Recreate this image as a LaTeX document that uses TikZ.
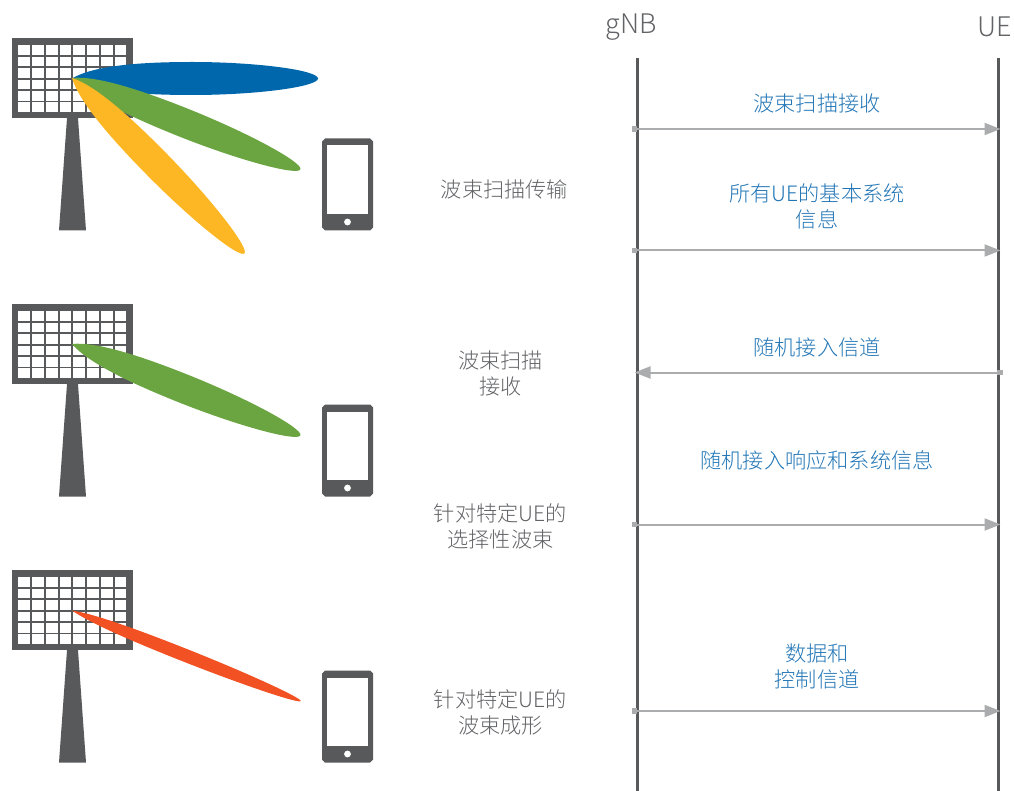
\documentclass[tikz,border=0pt]{standalone}
\usepackage{fontspec}
\setmainfont{Noto Sans CJK SC Light}
\usetikzlibrary{arrows.meta}
\definecolor{dk}{HTML}{58595B}
\definecolor{txtg}{HTML}{626366}
\definecolor{txtb}{HTML}{2276B6}
\definecolor{arr}{HTML}{ABACAE}
\definecolor{bblue}{HTML}{0067AC}
\definecolor{bgreen}{HTML}{6BA542}
\definecolor{borange}{HTML}{FDB624}
\definecolor{bred}{HTML}{F15123}
\tikzset{
  x=1pt,y=-1pt,
  lefttext/.style={text=txtg,font=\fontsize{21.2}{26}\selectfont,align=center,inner sep=0pt},
  msgtext/.style={text=txtb,font=\fontsize{21.2}{26}\selectfont,align=center,inner sep=0pt},
  headtext/.style={text=txtg,font=\fontsize{27}{30}\selectfont,inner sep=0pt},
  lifeline/.style={draw=dk,line width=3pt},
  msgarrow/.style={draw=arr,line width=2pt,-{Triangle[length=16pt,width=12pt,color=arr]}},
  stub/.style={fill=arr,inner sep=0pt,minimum size=5.5pt,draw=none},
  pics/station/.style={code={
    \fill[dk] (12,38) rectangle (133,118);
    \foreach \c in {0,...,7}{\foreach \r in {0,...,5}{
      \fill[white] ({18.4+13.75*\c},{45.2+11.45*\r}) rectangle ++(11.6,9.6);}}
    \fill[dk] (67,118) -- (78,118) -- (86,230.5) -- (59,230.5) -- cycle;
    \fill[dk] (325,138.5) -- (370,138.5) -- (373,141.5) -- (373,227.5) -- (370,230.5) -- (325,230.5) -- (322,227.5) -- (322,141.5) -- cycle;
    \fill[white] (327,145.5) rectangle (368,214);
    \fill[white] (347.5,222) circle (3.4);
  }},
  pics/beam/.style 2 args={code={
    \fill[#2] (0,0) .. controls (22,{-.8*#1}) and (70,{-#1}) .. (120,{-#1})
      .. controls (185,{-#1}) and (246,{-.5*#1}) .. (246,0)
      .. controls (246,{.5*#1}) and (185,{#1}) .. (120,{#1})
      .. controls (70,{#1}) and (22,{.8*#1}) .. (0,0) -- cycle;
  }}
}
\begin{document}
\begin{tikzpicture}
\useasboundingbox (0,0) rectangle (1014,791);
\pic at (0,0) {station};
\pic at (0,266) {station};
\pic at (0,532) {station};
\pic[rotate=0] at (72,78.5) {beam={16.5}{bblue}};
\pic[rotate=-21.8] at (72,78) {beam={14.5}{bgreen}};
\pic[rotate=-45.5] at (72,78) {beam={14.5}{borange}};
\pic[rotate=-21.8] at (72,344) {beam={14.5}{bgreen}};
\pic[rotate=-21.6] at (72,610.5) {beam={6.5}{bred}};

\node[lefttext] (t1) at (504.5,189.7) {波束扫描传输};
\node[lefttext] (t2) at (500.5,373.7) {波束扫描\\接收};
\node[lefttext] (t3) at (500.5,526) {针对特定UE的\\选择性波束};
\node[lefttext] (t4) at (500.5,712) {针对特定UE的\\波束成形};

\node[headtext] (gnb) at (631,27) {gNB};
\node[headtext] (ue) at (995,26.5) {UE};

\coordinate (gt) at (637,58);
\coordinate (gb) at (637,791);
\coordinate (ut) at (998,58);
\coordinate (ub) at (998,791);
\draw[lifeline] (gt) -- (gb);
\draw[lifeline] (ut) -- (ub);

\node[msgtext] (m1) at (817,103.7) {波束扫描接收};
\node[msgtext] (m2) at (817,206) {所有UE的基本系统\\信息};
\node[msgtext] (m3) at (817,347.7) {随机接入信道};
\node[msgtext] (m4) at (817,460.5) {随机接入响应和系统信息};
\node[msgtext] (m5) at (817,666.7) {数据和\\控制信道};

\node[stub] (a1) at (634.5,129) {};
\coordinate (b1) at (1000.5,129);
\node[stub] (a2) at (634.5,250.5) {};
\coordinate (b2) at (1000.5,250.5);
\node[stub] (a3) at (1000,372.5) {};
\coordinate (b3) at (634.5,372.5);
\node[stub] (a4) at (634.5,524.5) {};
\coordinate (b4) at (1000.5,524.5);
\node[stub] (a5) at (634.5,711) {};
\coordinate (b5) at (1000.5,711);
\foreach \n in {1,...,5}{\draw[msgarrow] (a\n.center) -- (b\n);}
\end{tikzpicture}
\end{document}
